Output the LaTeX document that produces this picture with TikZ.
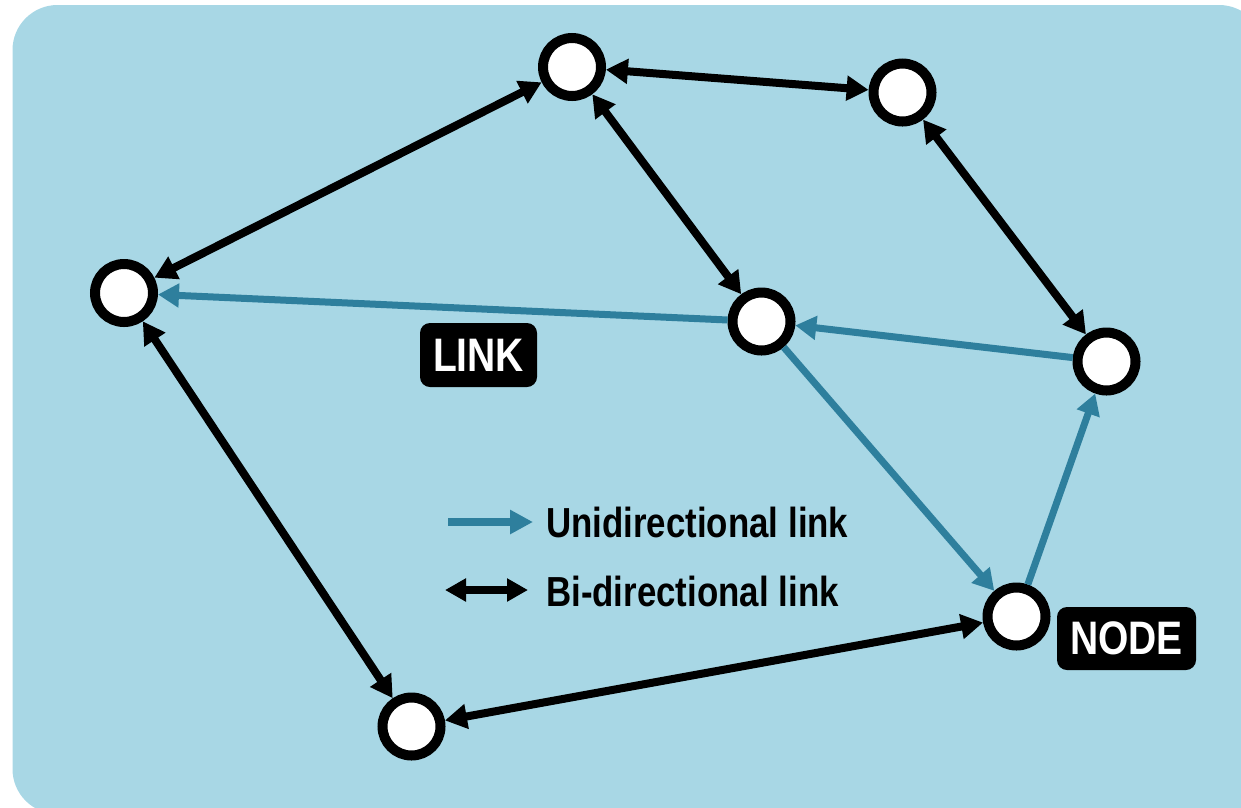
\documentclass[tikz,border=0pt]{standalone}
\usepackage{fontspec}
\setmainfont{Liberation Sans}
\newfontfamily\tagfont{Liberation Sans}[FakeStretch=0.83]
\usetikzlibrary{arrows.meta}

\definecolor{panelblue}{RGB}{168,215,229}
\definecolor{linkteal}{RGB}{46,127,157}

\tikzset{
  netnode/.style={circle, draw=black, fill=white, line width=10pt,
    minimum size=58pt, inner sep=0pt},
  bilink/.style={draw=black, line width=8pt,
    {Triangle[length=22pt,width=24pt]}-{Triangle[length=22pt,width=24pt]}},
  unilink/.style={draw=linkteal, line width=7pt,
    -{Triangle[length=21pt,width=23pt]}},
  tagbox/.style={fill=black, text=white, rounded corners=10pt,
    inner sep=0pt, font=\tagfont\bfseries\fontsize{47}{50}\selectfont},
  legendtext/.style={anchor=base west, inner sep=0pt,
    font=\tagfont\bfseries\fontsize{42}{46}\selectfont}
}

\begin{document}
\begin{tikzpicture}[x=1pt, y=-1pt]
  \useasboundingbox (0,0) rectangle (1241,807);
  \clip (0,0) rectangle (1241,807);

  % panel
  \fill[panelblue, rounded corners=45pt] (12.5,5) rectangle (1264,814);

  % network nodes
  \node[netnode] (A) at (572,67)   {};
  \node[netnode] (B) at (902.5,92.5) {};
  \node[netnode] (C) at (124,293)  {};
  \node[netnode] (D) at (761.5,321.5) {};
  \node[netnode] (E) at (1106.5,361.5) {};
  \node[netnode] (F) at (1016.5,616.5) {};
  \node[netnode] (G) at (411.5,726.5) {};

  % bi-directional links
  \draw[bilink] (A) -- (B);
  \draw[bilink] (A) -- (C);
  \draw[bilink] (A) -- (D);
  \draw[bilink] (B) -- (E);
  \draw[bilink] (C) -- (G);
  \draw[bilink] (G) -- (F);

  % unidirectional links
  \draw[unilink] (D) -- (C);
  \draw[unilink] (E) -- (D);
  \draw[unilink] (D) -- (F);
  \draw[unilink] (F) -- (E);

  % tags
  \node[tagbox, minimum width=117pt, minimum height=64pt] (linktag) at (478.5,355) {LINK};
  \node[tagbox, minimum width=139pt, minimum height=63pt] (nodetag) at (1126.5,638.5) {NODE};

  % legend
  \coordinate (u1) at (448,522);
  \coordinate (u2) at (533,522);
  \draw[draw=linkteal, line width=8pt, -{Triangle[length=23pt,width=23pt]}] (u1) -- (u2);
  \node[legendtext] (utext) at (546,537) {Unidirectional link};

  \coordinate (b1) at (445,590);
  \coordinate (b2) at (528,590);
  \draw[draw=black, line width=8pt,
    {Triangle[length=21pt,width=22pt]}-{Triangle[length=21pt,width=22pt]}] (b1) -- (b2);
  \node[legendtext] (btext) at (546,606) {Bi-directional link};
\end{tikzpicture}
\end{document}
